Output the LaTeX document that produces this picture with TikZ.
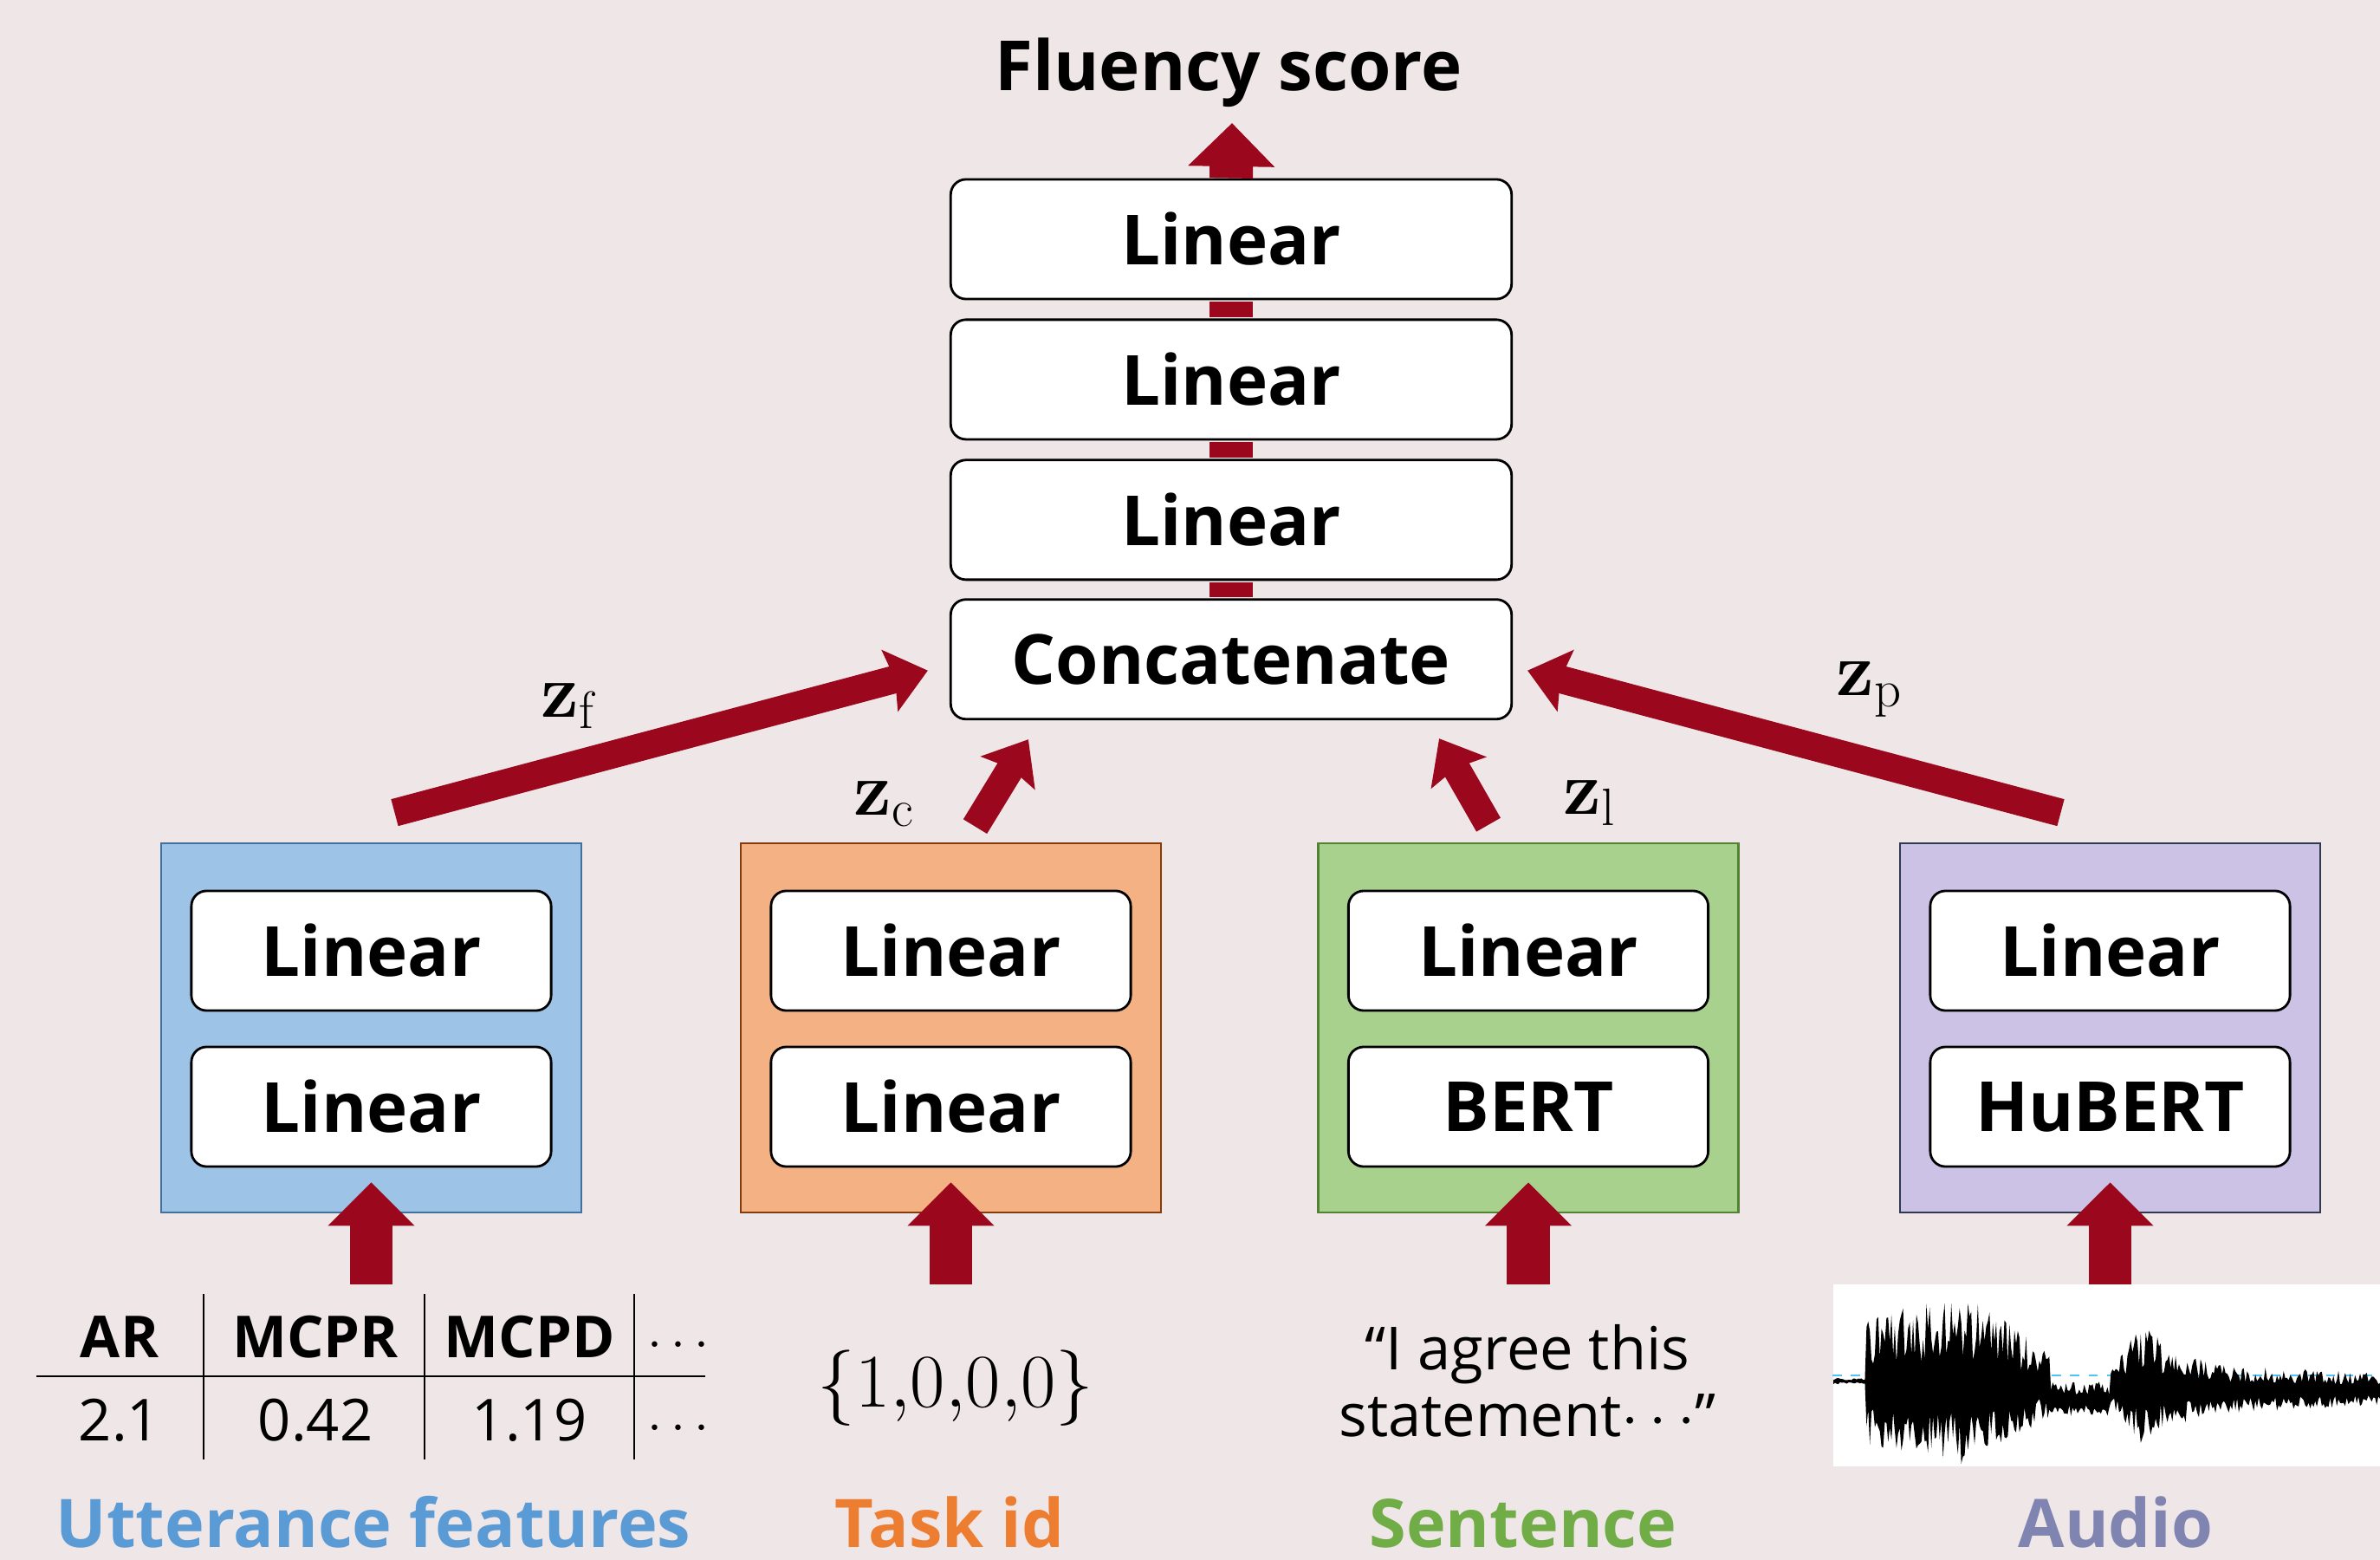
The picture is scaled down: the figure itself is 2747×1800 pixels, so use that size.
\documentclass[tikz,border=0pt]{standalone}
\usepackage{amssymb}
\usepackage[no-math]{fontspec}
\setmainfont{Open Sans}
\usetikzlibrary{arrows.meta,positioning}

\definecolor{bgpink}{RGB}{239,230,231}
\definecolor{redarrow}{RGB}{155,8,29}
\definecolor{bluefill}{RGB}{157,195,230}
\definecolor{blueline}{RGB}{65,113,156}
\definecolor{bluetext}{RGB}{91,155,213}
\definecolor{orangefill}{RGB}{244,177,131}
\definecolor{orangeline}{RGB}{132,60,12}
\definecolor{orangetext}{RGB}{237,125,49}
\definecolor{greenfill}{RGB}{169,209,142}
\definecolor{greenline}{RGB}{84,130,53}
\definecolor{greentext}{RGB}{112,173,71}
\definecolor{purplefill}{RGB}{204,194,230}
\definecolor{purpleline}{RGB}{47,58,80}
\definecolor{purpletext}{RGB}{128,132,176}
\definecolor{wavecyan}{RGB}{79,195,247}

\tikzset{
  layer/.style={draw=black, line width=0.8pt, fill=white, rounded corners=5pt,
    minimum height=1.38cm, inner sep=0pt, font=\bfseries\fontsize{22.7}{27}\selectfont},
  wide/.style={layer, minimum width=6.47cm},
  narrow/.style={layer, minimum width=4.15cm},
  branch/.style={draw=#1line, fill=#1fill, line width=0.7pt,
    minimum width=4.85cm, minimum height=4.26cm, inner sep=0pt},
  caption/.style={inner sep=0pt, text=#1text, font=\bfseries\fontsize{22}{26}\selectfont},
  fat/.style={draw=redarrow, line width=0.49cm, -{Triangle[length=0.5cm, width=0.97cm]}},
  stem/.style={draw=redarrow, line width=0.5cm, shorten <=0.4pt, shorten >=0.4pt},
  zlink/.style={draw=redarrow, line width=0.32cm, -{Stealth[length=0.45cm, width=0.72cm, inset=0.06cm]}},
  zlab/.style={inner sep=0pt, font=\fontsize{25}{30}\selectfont},
  cellhead/.style={inner sep=0pt, font=\bfseries\fontsize{19}{23}\selectfont},
  cellval/.style={inner sep=0pt, font=\fontsize{19}{23}\selectfont},
  rule/.style={draw=black, line width=0.6pt},
  declare function={
    wamp(\u)=\u<38 ? 4 : (\u<150 ? 80+(\u-38)/112*32 : (\u<250 ? 112-(\u-150)/100*70 :
      (\u<320 ? 22 : (\u<355 ? 22+(\u-320)/35*58 : (\u<430 ? 80-(\u-355)/75*46 : 34-(\u-430)/201*14)))));
    woff(\u)=\u<38 ? -8 : (\u<250 ? 0 : (\u<320 ? 14 : 3));
  }
}

\begin{document}
\begin{tikzpicture}[x=0.01cm, y=-0.01cm]
\useasboundingbox (0,0) rectangle (2747,1800);
\fill[bgpink] (0,0) rectangle (2747,1800);

\node[wide] (lin1) at (1421,276) {Linear};
\node[wide, below=0.21cm of lin1] (lin2) {Linear};
\node[wide, below=0.21cm of lin2] (lin3) {Linear};
\node[wide, below=0.2cm of lin3] (cat) {Concatenate};
\draw[stem] (cat.north) -- (lin3.south);
\draw[stem] (lin3.north) -- (lin2.south);
\draw[stem] (lin2.north) -- (lin1.south);

\coordinate (scoretip) at (1422,142);
\draw[fat, line width=0.5cm] (lin1.north) -- (scoretip);
\node[inner sep=0pt, anchor=base, font=\bfseries\fontsize{22.7}{27}\selectfont] (score) at (1418,105) {Fluency score};

\foreach \n/\cx/\col/\lo in {u/428.5/blue/Linear, t/1097.5/orange/Linear, s/1764/green/BERT, a/2435.5/purple/HuBERT} {
  \node[branch=\col] (\n box) at (\cx,1186) {};
  \node[narrow] (\n1) at (\cx,1097) {Linear};
  \node[narrow] (\n2) at (\cx,1277) {\lo};
  \coordinate (\n in) at (\cx,1482);
  \draw[fat] (\n in) -- ([yshift=0.36cm]\n box.south);
}

\draw[zlink] ([shift={(27,-34)}]ubox.north) -- ([shift={(-25,13)}]cat.west);
\draw[zlink] ([shift={(28,-18)}]tbox.north) -- ([shift={(91,22)}]cat.south west);
\draw[zlink] ([shift={(-46,-20)}]sbox.north) -- ([shift={(-85,21)}]cat.south east);
\draw[zlink] ([shift={(-57,-34)}]abox.north) -- ([shift={(17,13)}]cat.east);
\node[zlab, anchor=base west] (zf) at (624,827) {$\mathbf{z}_\mathrm{f}$};
\node[zlab, anchor=base west] (zc) at (985,940) {$\mathbf{z}_\mathrm{c}$};
\node[zlab, anchor=base west] (zl) at (1804,939) {$\mathbf{z}_\mathrm{l}$};
\node[zlab, anchor=base west] (zp) at (2119,802) {$\mathbf{z}_\mathrm{p}$};

\foreach \cx/\hd/\vl [count=\i] in {138/AR/2.1, 364/MCPR/0.42, 611/MCPD/1.19, 783/$\cdots$/$\cdots$} {
  \node[cellhead, anchor=base] (h\i) at (\cx,1566) {\hd};
  \node[cellval, anchor=base] (v\i) at (\cx,1662) {\vl};
}
\draw[rule] (42,1588) -- (814,1588);
\foreach \lx in {235,490,732} \draw[rule] (\lx,1493) -- (\lx,1684);

\node[inner sep=0pt, anchor=base, font=\fontsize{23}{28}\selectfont] (taskvec) at (1103,1623) {$\{1{,}0{,}0{,}0\}$};
\node[inner sep=0pt, align=center, font=\fontsize{19.5}{21.9}\selectfont] (sentence) at (1763,1593) {“I agree this\\statement$\cdots$”};

\node[fill=white, inner sep=0pt, minimum width=6.31cm, minimum height=2.1cm] (wave) at (2431.5,1587) {};
\draw[wavecyan, dashed, line width=0.7pt] (wave.west) -- (wave.east);
\begin{scope}
\clip (wave.south west) rectangle (wave.north east);
\pgfmathsetseed{7}
\fill[black] plot[domain=2116:2747, samples=330] (\x, {1602 + woff(\x-2116) - wamp(\x-2116)*(0.3+0.7*rnd)})
  -- plot[domain=2747:2116, samples=330] (\x, {1602 + woff(\x-2116) + 0.8*wamp(\x-2116)*(0.3+0.7*rnd)}) -- cycle;
\end{scope}

\node[caption=blue, anchor=base] (lbu) at (431,1785) {Utterance features};
\node[caption=orange, anchor=base] (lbt) at (1096,1785) {Task id};
\node[caption=green, anchor=base] (lbs) at (1758,1785) {Sentence};
\node[caption=purple, anchor=base] (lba) at (2442,1785) {Audio};
\end{tikzpicture}
\end{document}
